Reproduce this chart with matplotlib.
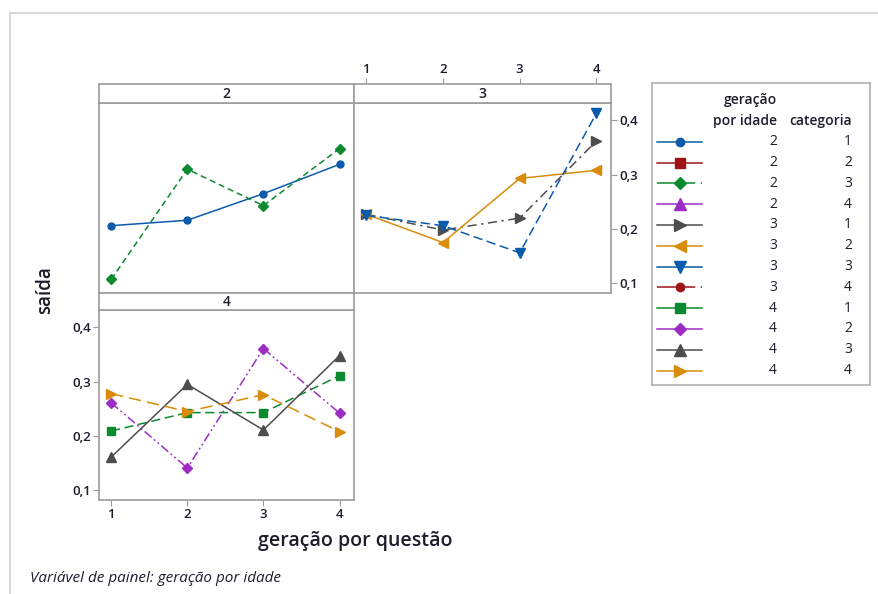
import matplotlib
matplotlib.use('Agg')
import matplotlib.pyplot as plt
from matplotlib.lines import Line2D
from matplotlib.ticker import FuncFormatter

plt.rcParams['font.family'] = ['Open Sans', 'DejaVu Sans']

# geração por idade / categoria, one entry per legend row
geracao = [2, 2, 2, 2, 3, 3, 3, 3, 4, 4, 4, 4]
categoria = [1, 2, 3, 4, 1, 2, 3, 4, 1, 2, 3, 4]
questao = [1, 2, 3, 4]

# mean "saída" per questão (None = no data for that group)
saida = [
    [0.206, 0.216, 0.265, 0.319],   # 2 / 1
    None,                           # 2 / 2
    [0.107, 0.310, 0.243, 0.348],   # 2 / 3
    None,                           # 2 / 4
    [0.227, 0.198, 0.220, 0.362],   # 3 / 1
    [0.227, 0.175, 0.293, 0.308],   # 3 / 2
    [0.225, 0.206, 0.156, 0.413],   # 3 / 3
    None,                           # 3 / 4
    [0.209, 0.243, 0.243, 0.311],   # 4 / 1
    [0.261, 0.141, 0.361, 0.242],   # 4 / 2
    [0.161, 0.295, 0.211, 0.348],   # 4 / 3
    [0.278, 0.245, 0.276, 0.208],   # 4 / 4
]
yticks = [0.1, 0.2, 0.3, 0.4]

blue, red, green, purple, gray, orange = '#0A5BAA', '#9E1414', '#0C8A2F', '#9C2CC4', '#4D4D4D', '#D98C0B'
colors = [blue, red, green, purple, gray, orange, blue, red, green, purple, gray, orange]
markers = ['o', 's', 'D', '^', '>', '<', 'v', 'o', 's', 'D', '^', '>']
msizes = [5, 5.5, 5, 7, 7, 7, 7, 5, 5.5, 5, 7, 7]
styles = ['-', '-', (0, (4, 2.5)), '-', (0, (6, 3, 1.5, 3)), '-', (0, (6, 3)), (0, (4, 2.5)),
          (0, (6, 3)), (0, (6, 2, 1.2, 2, 1.2, 2)), '-', (0, (8, 4))]
leg_styles = ['-', '-', (0, (25, 3.6)), '-', '-', '-', '-', (0, (25, 3.6)), '-', '-', '-', '-']

W, H = 879, 594
txt = '#1d1d2b'
edge = '#9c9c9c'
fig = plt.figure(figsize=(W / 100, H / 100), dpi=100)


def box(x0, y0, x1, y1):
    return [x0 / W, 1 - y1 / H, (x1 - x0) / W, (y1 - y0) / H]


comma = FuncFormatter(lambda v, p: ('%.1f' % v).replace('.', ','))
xlim = (0.84, 4.19)
ylim = (0.082, 0.432)

# panel areas: (data box, strip box)
panels = {
    2: ((99, 103, 354, 293), (99, 84, 354, 103)),
    3: ((354, 103, 611, 293), (354, 84, 611, 103)),
    4: ((99, 310, 354, 500), (99, 293, 354, 310)),
}
axes = {}
for g, (area, strip) in panels.items():
    ax = fig.add_axes(box(*area))
    ax.set_xlim(*xlim)
    ax.set_ylim(*ylim)
    ax.set_xticks([])
    ax.set_yticks([])
    for s in ax.spines.values():
        s.set_color(edge)
        s.set_linewidth(1.2)
    sax = fig.add_axes(box(*strip))
    sax.set_xlim(*xlim)
    sax.set_xticks([])
    sax.set_yticks([])
    for s in sax.spines.values():
        s.set_color(edge)
        s.set_linewidth(1.2)
    sax.text(0.5, 0.45, str(g), transform=sax.transAxes, ha='center', va='center',
             fontsize=10, fontweight='semibold', color=txt)
    axes[g] = (ax, sax)

tick_kw = dict(direction='out', length=4, width=0.8, color=edge, labelcolor=txt,
               labelsize=9.5, pad=2)

# panel 3: top and right axes
ax3, sax3 = axes[3]
sax3.set_xticks(questao)
sax3.xaxis.tick_top()
sax3.tick_params(axis='x', **tick_kw)
ax3.set_yticks(yticks)
ax3.yaxis.set_major_formatter(comma)
ax3.yaxis.tick_right()
ax3.tick_params(axis='y', **tick_kw)

# panel 4: bottom and left axes
ax4, _ = axes[4]
ax4.set_xticks(questao)
ax4.set_yticks(yticks)
ax4.yaxis.set_major_formatter(comma)
ax4.tick_params(axis='both', **tick_kw)

for ax in (sax3, ax3, ax4):
    for lab in ax.get_xticklabels() + ax.get_yticklabels():
        lab.set_fontweight('semibold')

for i, vals in enumerate(saida):
    if vals is None:
        continue
    ax = axes[geracao[i]][0]
    ax.plot(questao, vals, color=colors[i], marker=markers[i], markersize=msizes[i],
            linestyle=styles[i], linewidth=1.1, clip_on=False)

fig.text(45 / W, 1 - 290 / H, 'saída', rotation=90, ha='center', va='center',
         fontsize=13.5, fontweight='semibold', color=txt)
fig.text(355 / W, 1 - 541 / H, 'geração por questão', ha='center', va='center',
         fontsize=14, fontweight='semibold', color=txt)
fig.text(30 / W, 1 - 578 / H, 'Variável de painel: geração por idade', ha='left', va='center',
         fontsize=11, style='italic', color=txt)

# legend table
lax = fig.add_axes(box(652, 83, 870, 385))
lax.set_xlim(652, 870)
lax.set_ylim(385, 83)
lax.set_xticks([])
lax.set_yticks([])
for s in lax.spines.values():
    s.set_color('#b0b0b0')
    s.set_linewidth(1.2)
head = dict(ha='right', va='center', fontsize=10, fontweight='semibold', color=txt)
lax.text(777, 100, 'geração', **head)
lax.text(777, 121, 'por idade', **head)
lax.text(852, 121, 'categoria', **head)
for i in range(len(geracao)):
    y = 141.7 + i * 20.8
    lax.add_line(Line2D([657, 702], [y, y], color=colors[i], linestyle=leg_styles[i], linewidth=1.1))
    lax.add_line(Line2D([680], [y], color=colors[i], marker=markers[i], markersize=msizes[i] + 1))
    lax.text(777, y, str(geracao[i]), ha='right', va='center', fontsize=10, color=txt)
    lax.text(852, y, str(categoria[i]), ha='right', va='center', fontsize=10, color=txt)

# outer frame edges
fig.add_artist(Line2D([10 / W, 10 / W], [0, 1 - 13 / H], color='#d2d2d2', linewidth=1.2))
fig.add_artist(Line2D([10 / W, 1], [1 - 13 / H, 1 - 13 / H], color='#d2d2d2', linewidth=1.2))

fig.savefig('out.png', dpi=100)
